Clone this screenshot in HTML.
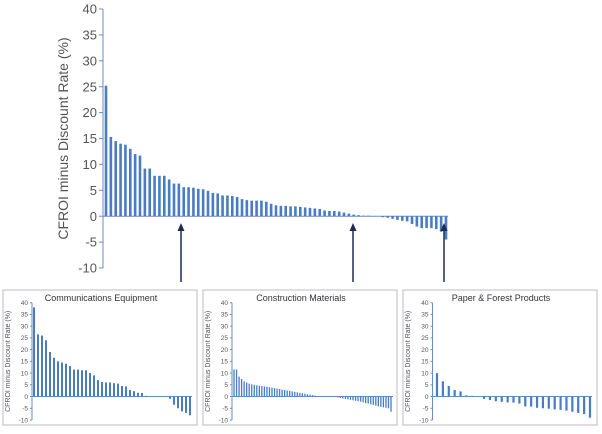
<!DOCTYPE html>
<html><head><meta charset="utf-8">
<style>
body{margin:0;background:#fff;width:602px;height:434px;overflow:hidden;font-family:"Liberation Sans",sans-serif;}
svg{display:block}
</style></head>
<body>
<svg id="c" width="602" height="434"></svg>
<script>
const mainValues=[25.2,15.3,14.5,14,13.8,13,12,11.7,9.2,9.2,7.8,7.8,7.8,7.1,6.3,6.3,5.6,5.6,5.5,5.3,5.2,4.9,4.5,4.4,4,4,3.9,3.7,3.3,3.1,3,3,3,2.8,2.4,2.1,2,2,1.9,1.9,1.8,1.7,1.6,1.5,1.4,1.1,1,1,0.9,0.7,0.5,0.3,0.2,0.1,0.1,0,0,-0.2,-0.3,-0.5,-0.7,-0.9,-1,-1.5,-2,-2.3,-2.3,-2.3,-2.5,-3,-4.5];
const commValues=[38,26.5,26,24,19,16.5,15,14.5,14,13,11.5,11.5,11.2,11.2,10,9,7,6.2,6,6,5.7,5.5,4.5,4.3,2.8,2.3,1.6,1.5,0.3,0,0,0,0,0,-1,-3.5,-5,-6.3,-7,-8];
const constValues=[11.5,11.5,8.5,7.5,6.5,6,5.5,5.2,5,4.8,4.6,4.5,4.3,4.2,4,3.8,3.6,3.4,3.2,3,2.8,2.6,2.4,2.2,2,1.8,1.6,1.4,1.2,1,0.8,0.6,0.4,0.2,0.1,0,0,0,0,0,-0.2,-0.4,-0.6,-0.8,-1,-1.2,-1.4,-1.6,-1.8,-2,-2.2,-2.5,-2.8,-3,-3.3,-3.6,-3.9,-4.2,-4.4,-4.6,-4.8,-5,-6.5];
const paperValues=[10,6.5,4.5,2.8,2.2,0.5,0.3,0,-1,-1.5,-2,-2.3,-2.5,-2.6,-3,-4.2,-4.3,-4.8,-5,-5.2,-5.5,-5.7,-6,-6.5,-7,-7.5,-9];
const yTicks=[40,35,30,25,20,15,10,5,0,-5,-10];
const panelTitles=["Communications Equipment","Construction Materials","Paper & Forest Products"];

const NS="http://www.w3.org/2000/svg";
const svg=document.getElementById('c');
function mk(t,a,p){const e=document.createElementNS(NS,t);for(const k in a)e.setAttribute(k,a[k]);(p||svg).appendChild(e);return e;}
const BAR="#4a7cc4";

function chart(o){
  const g=mk('g',{});
  
  
  const y=v=>o.y0+(40-v)*(o.y1-o.y0)/50;
  const ax=mk('line',{x1:o.ax,x2:o.ax,y1:y(40),y2:y(-10),stroke:"#6a8cc8","stroke-width":1},g);
  
  yTicks.forEach(t=>{
    mk('line',{x1:o.ax-o.tk,x2:o.ax,y1:y(t),y2:y(t),stroke:"#6a8cc8","stroke-width":1},g);
    const tx=mk('text',{x:o.ax-o.tk-2,y:y(t)+o.fs*0.35,"font-size":o.fs,fill:"#555","text-anchor":"end"},g);
    tx.textContent=t;
    
  });
  const z=mk('line',{x1:o.ax,x2:o.xe+2,y1:y(0),y2:y(0),stroke:"#6a8cc8","stroke-width":1},g);
  
  const n=o.vals.length, step=(o.xe-o.xs)/(n-1);
  o.vals.forEach((v,i)=>{
    const cx=o.xs+i*step, top=Math.min(y(v),y(0)), h=Math.abs(y(v)-y(0));
    const r=mk('rect',{x:cx-o.bw/2,y:top,width:o.bw,height:Math.max(h,0.01),fill:BAR},g);
    
    
  });
  const lx=o.lx, ly=(y(40)+y(-10))/2;
  const lt=mk('text',{x:lx,y:ly,"font-size":o.lfs,fill:"#555","text-anchor":"middle",transform:`rotate(-90 ${lx} ${ly})`},g);
  lt.textContent="CFROI minus Discount Rate (%)";
  
  return g;
}

chart({name:"main-chart",vals:mainValues,ax:103,y0:9,y1:268,xs:106,xe:446,bw:2.6,tk:4,fs:13,lfs:14,lx:68});

// arrows
[181,353,444].forEach(x=>{
  const a=mk('g',{});
  
  mk('line',{x1:x,x2:x,y1:230,y2:282,stroke:"#1f2a50","stroke-width":1.5},a);
  mk('polygon',{points:`${x-3.5},231 ${x+3.5},231 ${x},223`,fill:"#1f2a50"},a);
});

const panels=[
 {x:3,ax:32,vals:commValues,xs:34,xe:190,bw:2},
 {x:203,ax:232,vals:constValues,xs:234,xe:391,bw:1.3},
 {x:403,ax:432.5,vals:paperValues,xs:437,xe:590,bw:2.2}
];
panels.forEach((p,i)=>{
  const b=mk('rect',{x:p.x,y:290,width:194,height:135,fill:"#fff",stroke:"#b8bcc4","stroke-width":1});
  
  const t=mk('text',{x:p.x+98,y:301,"font-size":9,fill:"#333","text-anchor":"middle"});
  t.textContent=panelTitles[i];
  
  chart({name:"panel-chart",vals:p.vals,ax:p.ax,y0:302.7,y1:420,xs:p.xs,xe:p.xe,bw:p.bw,tk:2,fs:6.5,lfs:7,lx:p.x+7});
});
</script>
</body></html>
